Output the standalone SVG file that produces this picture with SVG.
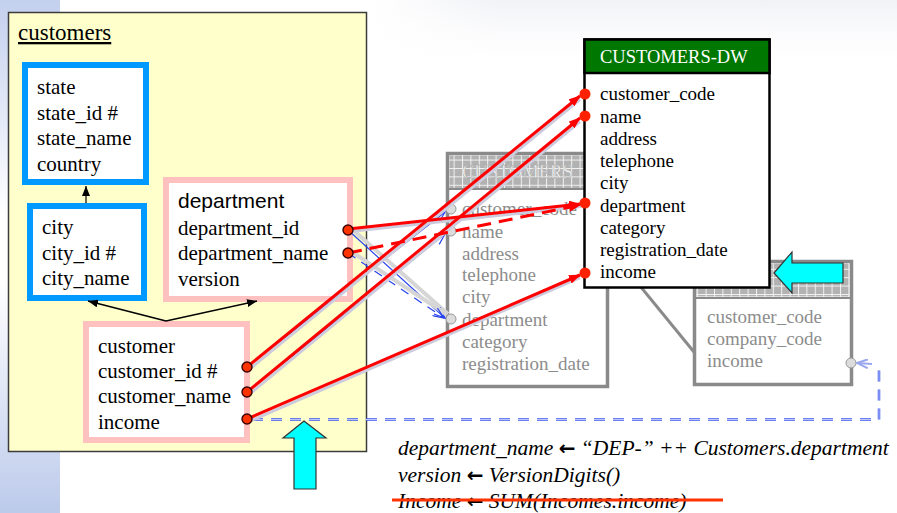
<svg xmlns="http://www.w3.org/2000/svg" width="897" height="513" viewBox="0 0 897 513">
  <defs>
    <linearGradient id="sideBand" x1="0" y1="0" x2="0" y2="1">
      <stop offset="0" stop-color="#c3d0ee"/>
      <stop offset="0.42" stop-color="#ffffff"/>
      <stop offset="0.55" stop-color="#ffffff"/>
      <stop offset="1" stop-color="#bccaeb"/>
    </linearGradient>
    <linearGradient id="topHaze" x1="0" y1="0" x2="0" y2="1">
      <stop offset="0" stop-color="#f1f2f6"/>
      <stop offset="1" stop-color="#ffffff" stop-opacity="0"/>
    </linearGradient>
    <linearGradient id="topHazeMask" x1="0" y1="0" x2="1" y2="0">
      <stop offset="0" stop-color="#fff" stop-opacity="0"/>
      <stop offset="0.25" stop-color="#fff" stop-opacity="1"/>
    </linearGradient>
    <mask id="hazeFade">
      <rect x="370" y="0" width="527" height="75" fill="url(#topHazeMask)"/>
    </mask>
    <pattern id="grid" width="8.4" height="8.4" patternUnits="userSpaceOnUse">
      <rect width="8.4" height="8.4" fill="#b2b2b2"/>
      <path d="M0,0.5 H8.4 M0.5,0 V8.4" stroke="#f2f2f2" stroke-width="1"/>
    </pattern>
    <marker id="redHead" markerUnits="userSpaceOnUse" markerWidth="12" markerHeight="9" refX="11" refY="4.5" orient="auto">
      <path d="M0,0 L12,4.5 L0,9 z" fill="#ff0000"/>
    </marker>
    <marker id="blackHead" markerUnits="userSpaceOnUse" markerWidth="10" markerHeight="8" refX="10" refY="4" orient="auto">
      <path d="M0,0 L10,4 L0,8 z" fill="#000"/>
    </marker>
    <marker id="blueHead" markerUnits="userSpaceOnUse" markerWidth="12" markerHeight="10" refX="11" refY="5" orient="auto">
      <path d="M0,0.5 L11,5 L0,9.5" fill="none" stroke="#2a44ee" stroke-width="1.2"/>
    </marker>
    <marker id="paleHead" markerUnits="userSpaceOnUse" markerWidth="12" markerHeight="10" refX="11" refY="5" orient="auto">
      <path d="M0,0.5 L11,5 L0,9.5" fill="none" stroke="#99a8ee" stroke-width="2"/>
    </marker>
    <style>
      .serif { font-family: "Liberation Serif", "Times New Roman", serif; fill: #000; }
      .sans { font-family: "Liberation Sans", Arial, sans-serif; fill: #000; }
      .row { font-size: 21px; }
      .dwrow { font-size: 19px; }
      .grey { font-size: 19px; fill: #8c8c8c; }
      .dwTitle { font-size: 18.5px; fill: #ffffff; }
      .srcTitle { font-size: 18.5px; fill: #f4f4f4; stroke: #a6a6a6; stroke-width: 0.4px; }
      .blueBox { fill: #fff; stroke: #0099ff; stroke-width: 6; }
      .pinkBox { fill: #fff; stroke: #ffc0c0; stroke-width: 6; }
      .greyTable { fill: #fff; stroke: #8a8a8a; stroke-width: 3.5; }
      .greyDot { fill: #dcdcdc; stroke: #9a9a9a; stroke-width: 1; }
      .srcDot { fill: #ff3300; stroke: #3a0000; stroke-width: 1.4; }
      .dwDot { fill: #ff2200; }
      .red { stroke: #ff0000; stroke-width: 3; fill: none; }
      .redShadow { stroke: #ccccde; stroke-width: 3; fill: none; }
      .blueShadow { stroke: #d6d6d6; stroke-width: 4; fill: none; }
      .blue { stroke: #2a44ee; stroke-width: 1.2; fill: none; }
      .blueDash { stroke: #3a55ee; stroke-width: 2.5; fill: none; stroke-dasharray: 11 8; }
      .blueDashCore { stroke: #dfe4ff; stroke-width: 0.8; fill: none; stroke-dasharray: 11 8; }
      .cyan { fill: #00ffff; stroke: #333; stroke-width: 1.2; }
      .formula { font-family: "Liberation Serif", "Times New Roman", serif; font-style: italic; font-size: 21.5px; fill: #000; }
      .arr { font-family: "DejaVu Sans", sans-serif; font-style: normal; font-weight: bold; font-size: 20px; }
    </style>
  </defs>

  <!-- page background -->
  <g id="background">
    <rect width="897" height="513" fill="#ffffff"/>
    <rect x="370" y="0" width="527" height="75" fill="url(#topHaze)" mask="url(#hazeFade)"/>
    <rect x="0" y="0" width="60" height="513" fill="url(#sideBand)"/>
  </g>

  <!-- source schema container -->
  <g id="customers">
    <rect x="8.5" y="12.5" width="358" height="439" fill="#ffffcc" stroke="#3c3c3c" stroke-width="1.5"/>
    <text class="serif" x="18" y="40" font-size="23" text-decoration="underline">customers</text>
  </g>

  <g id="state">
    <rect class="blueBox" x="25" y="65" width="121" height="117"/>
    <text class="serif row" x="37" y="94">state</text>
    <text class="serif row" x="37" y="119.5">state_id #</text>
    <text class="serif row" x="37" y="145">state_name</text>
    <text class="serif row" x="37" y="170.5">country</text>
  </g>

  <g id="city">
    <rect class="blueBox" x="30" y="206" width="114" height="92"/>
    <text class="serif row" x="42" y="234">city</text>
    <text class="serif row" x="42" y="259.5">city_id #</text>
    <text class="serif row" x="42" y="285">city_name</text>
  </g>

  <g id="department">
    <rect class="pinkBox" x="166" y="180" width="184" height="119"/>
    <text class="sans" x="178" y="208" font-size="21">department</text>
    <text class="serif row" x="178" y="234.5">department_id</text>
    <text class="serif row" x="178" y="260">department_name</text>
    <text class="serif row" x="178" y="285.5">version</text>
  </g>

  <g id="customer">
    <rect class="pinkBox" x="86" y="324" width="161" height="116"/>
    <text class="serif row" x="98" y="353">customer</text>
    <text class="serif row" x="98" y="378">customer_id #</text>
    <text class="serif row" x="98" y="403">customer_name</text>
    <text class="serif row" x="98" y="429">income</text>
  </g>

  <!-- operational tables shown faded -->
  <g id="customers-src">
    <rect class="greyTable" x="447.5" y="153.5" width="160" height="233"/>
    <rect x="449.5" y="155.5" width="156" height="33" fill="url(#grid)"/>
    <line x1="447.5" y1="189" x2="607.5" y2="189" stroke="#8a8a8a" stroke-width="2"/>
    <text class="serif srcTitle" x="462" y="178">CUSTOMERS</text>
    <text class="serif grey" x="462" y="215">customer_code</text>
    <text class="serif grey" x="462" y="237.5">name</text>
    <text class="serif grey" x="462" y="259.5">address</text>
    <text class="serif grey" x="462" y="281">telephone</text>
    <text class="serif grey" x="462" y="303">city</text>
    <text class="serif grey" x="462" y="325.5">department</text>
    <text class="serif grey" x="462" y="347.5">category</text>
    <text class="serif grey" x="462" y="369.5">registration_date</text>
    <circle class="greyDot" cx="451" cy="209" r="5"/>
    <circle class="greyDot" cx="451" cy="231" r="5"/>
    <circle class="greyDot" cx="451" cy="319" r="5"/>
  </g>

  <g id="incomes-src">
    <rect class="greyTable" x="694.5" y="261.5" width="157" height="123"/>
    <rect x="696.5" y="263.5" width="153" height="33" fill="url(#grid)"/>
    <line x1="694.5" y1="298" x2="851.5" y2="298" stroke="#8a8a8a" stroke-width="2"/>
    <text class="serif grey" x="707" y="322.5">customer_code</text>
    <text class="serif grey" x="707" y="344.5">company_code</text>
    <text class="serif grey" x="707" y="366.5">income</text>
    <circle class="greyDot" cx="851" cy="363" r="5"/>
  </g>

  <!-- link between the two operational tables -->
  <g id="source-link">
    <line x1="609" y1="248" x2="694" y2="352" stroke="#8a8a8a" stroke-width="3"/>
  </g>

  <!-- warehouse table -->
  <g id="customers-dw">
    <rect x="584.5" y="39.5" width="185" height="248" fill="#ffffff" stroke="#000" stroke-width="2.5"/>
    <rect x="584.5" y="39.5" width="185" height="33.5" fill="#007700" stroke="#000" stroke-width="2.5"/>
    <text class="serif dwTitle" x="600" y="63">CUSTOMERS-DW</text>
    <text class="serif dwrow" x="600" y="100">customer_code</text>
    <text class="serif dwrow" x="600" y="122.5">name</text>
    <text class="serif dwrow" x="600" y="144.5">address</text>
    <text class="serif dwrow" x="600" y="167">telephone</text>
    <text class="serif dwrow" x="600" y="189">city</text>
    <text class="serif dwrow" x="600" y="211.5">department</text>
    <text class="serif dwrow" x="600" y="233.5">category</text>
    <text class="serif dwrow" x="600" y="256">registration_date</text>
    <text class="serif dwrow" x="600" y="278">income</text>
  </g>

  <g id="connectors">
    <!-- hierarchy arrows inside the source schema -->
    <line x1="86" y1="203" x2="86" y2="186" stroke="#000" stroke-width="1.2" marker-end="url(#blackHead)"/>
    <line x1="166" y1="321" x2="88" y2="301" stroke="#000" stroke-width="1.5" marker-end="url(#blackHead)"/>
    <line x1="166" y1="321" x2="257" y2="301" stroke="#000" stroke-width="1.5" marker-end="url(#blackHead)"/>

    <!-- mappings to the operational table -->
    <line class="blueShadow" x1="352" y1="229" x2="448" y2="314"/>
    <line class="blue" x1="348" y1="230" x2="445" y2="318" marker-end="url(#blueHead)"/>
    <line class="blueShadow" x1="352" y1="252" x2="446" y2="314"/>
    <line class="blue" x1="348" y1="253" x2="444" y2="318" stroke-dasharray="9 7" stroke-width="1.5" marker-end="url(#blueHead)"/>
    <line class="blue" x1="247" y1="367" x2="445" y2="212" marker-end="url(#blueHead)"/>
    <line class="blue" x1="247" y1="392" x2="445" y2="234" marker-end="url(#blueHead)"/>

    <!-- income lookup route -->
    <polyline class="blueDash" points="252,419.5 879,419.5 879,364"/>
    <polyline class="blueDashCore" points="252,419.5 879,419.5 879,364"/>
    <line x1="872" y1="364" x2="857" y2="363" stroke="#99a8ee" stroke-width="2" marker-end="url(#paleHead)"/>

    <!-- shadows of warehouse mappings -->
    <g transform="translate(2,2.5)">
      <line class="redShadow" x1="348" y1="229" x2="579" y2="204"/>
      <line class="redShadow" x1="247" y1="367" x2="578" y2="97"/>
      <line class="redShadow" x1="247" y1="392" x2="578" y2="119"/>
      <line class="redShadow" x1="247" y1="419" x2="578" y2="275"/>
    </g>

    <!-- mappings to the warehouse table -->
    <line class="red" x1="348" y1="229" x2="580" y2="204" marker-end="url(#redHead)"/>
    <line class="red" x1="348" y1="253" x2="580" y2="205" stroke-dasharray="14 8" marker-end="url(#redHead)"/>
    <line class="red" x1="247" y1="367" x2="580" y2="96" marker-end="url(#redHead)"/>
    <line class="red" x1="247" y1="392" x2="580" y2="118" marker-end="url(#redHead)"/>
    <line class="red" x1="247" y1="419" x2="580" y2="275" marker-end="url(#redHead)"/>

    <!-- attribute end points -->
    <circle class="srcDot" cx="348" cy="230" r="5"/>
    <circle class="srcDot" cx="348" cy="253" r="5"/>
    <circle class="srcDot" cx="247" cy="367" r="5"/>
    <circle class="srcDot" cx="247" cy="392" r="5"/>
    <circle class="srcDot" cx="247" cy="419" r="5"/>
    <circle class="dwDot" cx="585" cy="94" r="5.5"/>
    <circle class="dwDot" cx="585" cy="116" r="5.5"/>
    <circle class="dwDot" cx="585" cy="203" r="5.5"/>
    <circle class="dwDot" cx="585" cy="273" r="5.5"/>
  </g>

  <!-- highlight arrows -->
  <g id="highlights">
    <polygon class="cyan" points="774,273 792,252 792,263 843,263 843,283 792,283 792,293"/>
    <polygon class="cyan" points="304,421 326,438 316,438 316,489 294,489 294,438 283,438"/>
  </g>

  <!-- derivation rules -->
  <g id="rules">
    <text class="formula" x="398" y="455">department_name <tspan class="arr">←</tspan> “DEP-” ++ Customers.department</text>
    <text class="formula" x="398" y="482">version <tspan class="arr">←</tspan> VersionDigits()</text>
    <text class="formula" x="398" y="508">Income <tspan class="arr">←</tspan> SUM(Incomes.income)</text>
    <line x1="392" y1="500" x2="723" y2="500" stroke="#ff3300" stroke-width="3"/>
  </g>
</svg>
